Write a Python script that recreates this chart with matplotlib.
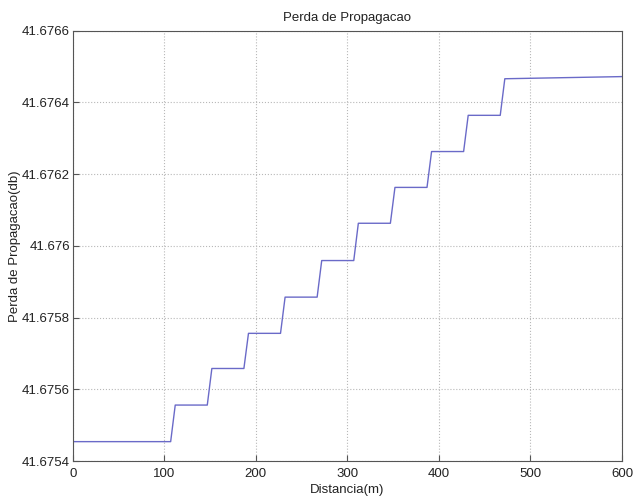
import numpy as np
import matplotlib
matplotlib.use("Agg")
import matplotlib.pyplot as plt

# step data (distance in m, loss in dB)
step_start = [107, 147, 187, 227, 267, 307, 347, 387, 427, 467]
step_end = [112, 152, 192, 232, 272, 312, 352, 392, 432, 472]
levels = [41.675454, 41.675556, 41.675658, 41.675756, 41.675857,
          41.675959, 41.676063, 41.676163, 41.676263, 41.676364, 41.676466]
x_last = 600
y_last = 41.676472

# build the polyline of the staircase
xs = [0]
ys = [levels[0]]
for i in range(len(step_start)):
    xs += [step_start[i], step_end[i]]
    ys += [levels[i], levels[i + 1]]
xs.append(x_last)
ys.append(y_last)

plt.rcParams['font.family'] = ['Liberation Sans', 'DejaVu Sans']
plt.rcParams['font.size'] = 9.5

fig = plt.figure(figsize=(6.34, 4.98), dpi=100)
ax = fig.add_axes([72.7 / 634, 1 - 461 / 498, (622 - 72.7) / 634, (461 - 30.7) / 498])
ax.plot(xs, ys, color='#6a6ac8', linewidth=1.0)

ax.set_xlim(0, 600)
ax.set_ylim(41.6754, 41.6766)
ax.set_xticks(np.arange(0, 601, 100))
yt = np.arange(41.6754, 41.67661, 0.0002)
ax.set_yticks(yt)
ax.set_yticklabels(['%g' % round(v, 4) for v in yt])

ax.grid(True, linestyle=':', color='#b8b8b8', linewidth=0.8)
ax.tick_params(direction='in', length=4, color='#555555', labelcolor='#222222')
ax.tick_params(axis='x', pad=5)
ax.tick_params(axis='y', pad=2)
for s in ax.spines.values():
    s.set_color('#555555')
    s.set_linewidth(0.8)

ax.set_title("Perda de Propagacao", fontsize=9.5, color='#222222', pad=7)
ax.set_xlabel("Distancia(m)", color='#222222', labelpad=3)
ax.set_ylabel("Perda de Propagacao(db)", color='#222222', labelpad=1)

fig.savefig("out.png", dpi=100)
